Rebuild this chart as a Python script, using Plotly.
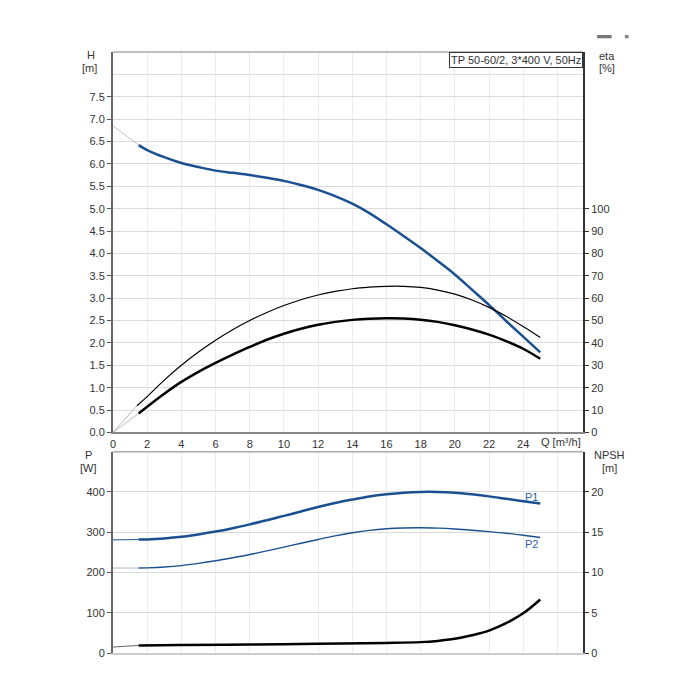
import plotly.graph_objects as go

# ---------------- data ----------------
q_h = [1.5, 2, 3, 4, 5, 6, 7, 8, 9, 10, 11, 12, 13, 14, 15, 16, 17, 18, 19, 20, 21, 22, 23, 24, 25]
h_vals = [6.42, 6.31, 6.15, 6.02, 5.93, 5.85, 5.80, 5.75, 5.69, 5.62, 5.53, 5.42, 5.28, 5.11, 4.90, 4.65,
          4.39, 4.12, 3.83, 3.53, 3.19, 2.85, 2.49, 2.14, 1.79]
q_h_ext = [0, 0.75, 1.5]
h_ext = [6.85, 6.63, 6.42]

q_eta = [1.4, 2, 3, 4, 5, 6, 7, 8, 9, 10, 11, 12, 13, 14, 15, 16, 17, 18, 19, 20, 21, 22, 23, 24, 25]
eta_vals = [11.9, 16.0, 23.4, 30.0, 35.9, 41.2, 45.9, 50.0, 53.6, 56.7, 59.3, 61.4, 63.0, 64.2, 64.9,
            65.3, 65.3, 64.8, 63.6, 61.8, 59.2, 55.9, 51.9, 47.3, 42.4]
q_etat = [1.5, 2, 3, 4, 5, 6, 7, 8, 9, 10, 11, 12, 13, 14, 15, 16, 17, 18, 19, 20, 21, 22, 23, 24, 25]
etat_vals = [8.5, 11.5, 17.3, 22.6, 27.1, 31.1, 34.8, 38.2, 41.4, 44.1, 46.3, 48.1, 49.4, 50.3, 50.8,
             51.0, 50.9, 50.4, 49.4, 47.9, 46.0, 43.7, 40.8, 37.4, 32.9]

q_p = [1.5, 2, 3, 4, 5, 6, 7, 8, 9, 10, 11, 12, 13, 14, 15, 16, 17, 18, 19, 20, 21, 22, 23, 24, 25]
p1_vals = [281.7, 282, 284.5, 288.5, 294.5, 301.5, 310, 319.5, 329.5, 340.5, 351.5, 362.5, 372.5, 381,
           388.5, 394, 398, 400, 400, 398, 394, 389, 383, 377, 371]
p2_vals = [211, 211.5, 213.5, 217, 222.5, 229, 236.5, 244.5, 253.5, 263, 272.5, 282, 291, 298.5,
           304.5, 308.5, 310.5, 311, 310, 308, 305, 301.5, 297.5, 292.5, 287]
q_p_ext = [0, 1.5]
p1_ext = [281, 281.7]
p2_ext = [211, 211]

q_npsh = [1.5, 4, 8, 12, 16, 18, 19, 20, 21, 22, 23, 24, 25]
npsh_vals = [0.94, 1.0, 1.05, 1.15, 1.25, 1.35, 1.5, 1.76, 2.2, 2.78, 3.7, 4.93, 6.65]
q_npsh_ext = [0, 1.5]
npsh_ext = [0.74, 0.94]

x_ticks = list(range(0, 25, 2))
h_ticks = [i * 0.5 for i in range(16)]
eta_ticks = list(range(0, 101, 10))
p_ticks = list(range(0, 401, 100))
npsh_ticks = list(range(0, 21, 5))

title_text = "TP 50-60/2, 3*400 V, 50Hz"

# ---------------- figure ----------------
BLUE = "#1a5090"
EXT = "#b8c2d0"
FONT = "Liberation Sans, Arial, sans-serif"

fig = go.Figure()

# top plot
fig.add_trace(go.Scatter(x=q_h_ext, y=h_ext, mode="lines", line=dict(color=EXT, width=1), xaxis="x", yaxis="y"))
fig.add_trace(go.Scatter(x=q_h, y=h_vals, mode="lines", line=dict(color=BLUE, width=2.5, shape="spline"), xaxis="x", yaxis="y"))
fig.add_trace(go.Scatter(x=[0, q_eta[0]], y=[0, eta_vals[0]], mode="lines", line=dict(color="#bbbbbb", width=1), xaxis="x", yaxis="y2"))
fig.add_trace(go.Scatter(x=[0, q_etat[0]], y=[0, etat_vals[0]], mode="lines", line=dict(color="#bbbbbb", width=1), xaxis="x", yaxis="y2"))
fig.add_trace(go.Scatter(x=q_eta, y=eta_vals, mode="lines", line=dict(color="black", width=1.2, shape="spline"), xaxis="x", yaxis="y2"))
fig.add_trace(go.Scatter(x=q_etat, y=etat_vals, mode="lines", line=dict(color="black", width=2.5, shape="spline"), xaxis="x", yaxis="y2"))

# bottom plot
fig.add_trace(go.Scatter(x=q_p_ext, y=p1_ext, mode="lines", line=dict(color=BLUE, width=1), xaxis="x2", yaxis="y3"))
fig.add_trace(go.Scatter(x=q_p_ext, y=p2_ext, mode="lines", line=dict(color="#a9b8cc", width=1), xaxis="x2", yaxis="y3"))
fig.add_trace(go.Scatter(x=q_p, y=p1_vals, mode="lines", line=dict(color=BLUE, width=2.5, shape="spline"), xaxis="x2", yaxis="y3"))
fig.add_trace(go.Scatter(x=q_p, y=p2_vals, mode="lines", line=dict(color=BLUE, width=1.4, shape="spline"), xaxis="x2", yaxis="y3"))
fig.add_trace(go.Scatter(x=q_npsh_ext, y=npsh_ext, mode="lines", line=dict(color="#666666", width=1), xaxis="x2", yaxis="y4"))
fig.add_trace(go.Scatter(x=q_npsh, y=npsh_vals, mode="lines", line=dict(color="black", width=2.5, shape="spline"), xaxis="x2", yaxis="y4"))

tickfont = dict(family=FONT, size=11, color="#333333")
TOP_D = [0.367, 1.0]
BOT_D = [0.0, 0.335]

fig.update_layout(
    width=700, height=700,
    margin=dict(l=105, r=125, t=44, b=55),
    paper_bgcolor="white", plot_bgcolor="white",
    showlegend=False,
    font=dict(family=FONT, size=11, color="#333333"),
    xaxis=dict(domain=[0, 1], anchor="y", range=[0, 27.5], tickvals=x_ticks,
               showgrid=False, minor=dict(dtick=2, tick0=0, showgrid=True, gridcolor="#ececec", gridwidth=1),
               showline=True, linecolor="#888888", linewidth=2, ticks="", zeroline=False,
               tickfont=tickfont, fixedrange=True),
    yaxis=dict(domain=TOP_D, anchor="x", range=[0, 8.5], tickvals=h_ticks, tickformat=".1f",
               showgrid=False, minor=dict(dtick=0.5, tick0=0, showgrid=True, gridcolor="#dadada", gridwidth=1),
               showline=True, linecolor="#666666", linewidth=2, ticks="outside", ticklen=4,
               tickcolor="#555555", zeroline=False, tickfont=tickfont),
    yaxis2=dict(overlaying="y", side="right", anchor="x", range=[0, 170], tickvals=eta_ticks,
                showgrid=False, showline=True, linecolor="#333333", linewidth=2, ticks="outside",
                ticklen=4, tickcolor="#333333", zeroline=False, tickfont=tickfont),
    xaxis2=dict(domain=[0, 1], anchor="y3", range=[0, 27.5], showticklabels=False,
                showgrid=False, minor=dict(dtick=2, tick0=0, showgrid=True, gridcolor="#ececec", gridwidth=1),
                showline=True, linecolor="#cccccc", linewidth=2, ticks="", zeroline=False),
    yaxis3=dict(domain=BOT_D, anchor="x2", range=[0, 500], tickvals=p_ticks,
                showgrid=True, gridcolor="#dadada", showline=True, linecolor="#666666", linewidth=2,
                ticks="outside", ticklen=4, tickcolor="#555555", zeroline=False, tickfont=tickfont),
    yaxis4=dict(overlaying="y3", side="right", anchor="x2", range=[0, 25], tickvals=npsh_ticks,
                showgrid=False, showline=True, linecolor="#333333", linewidth=2, ticks="outside",
                ticklen=4, tickcolor="#333333", zeroline=False, tickfont=tickfont),
)

# top borders
fig.add_shape(type="line", xref="x domain", yref="y domain", x0=0, x1=1, y0=1, y1=1,
              line=dict(color="#aaaaaa", width=1.5))
fig.add_shape(type="line", xref="x2 domain", yref="y3 domain", x0=0, x1=1, y0=1, y1=1,
              line=dict(color="#aaaaaa", width=1.5))
# small icons top-right
fig.add_shape(type="rect", xref="paper", yref="paper", x0=1.030, x1=1.061, y0=1.0228, y1=1.0283,
              line=dict(width=0), fillcolor="#777777")
fig.add_shape(type="rect", xref="paper", yref="paper", x0=1.089, x1=1.097, y0=1.0228, y1=1.0283,
              line=dict(width=0), fillcolor="#888888")

def ann(text, x, y, xref="paper", yref="paper", color="#333333", **kw):
    fig.add_annotation(text=text, x=x, y=y, xref=xref, yref=yref, showarrow=False,
                       xanchor="center", yanchor="middle",
                       font=dict(family=FONT, size=11, color=color), **kw)

ann("H", -0.046, 0.995)
ann("[m]", -0.049, 0.973)
ann("eta", 1.050, 0.993)
ann("[%]", 1.050, 0.973)
ann("P", -0.053, 0.329)
ann("[W]", -0.053, 0.308)
ann("NPSH", 1.057, 0.329)
ann("[m]", 1.057, 0.308)
ann("Q [m³/h]", 0.953, 0.3516)
ann("P1", 24.5, 388, xref="x2", yref="y3", color="#2f60a0")
ann("P2", 24.5, 271, xref="x2", yref="y3", color="#2f60a0")
fig.add_annotation(text=title_text, x=1, y=1, xref="paper", yref="paper", xanchor="right", yanchor="top",
                   showarrow=False, bgcolor="white", bordercolor="#333333", borderwidth=1, borderpad=1,
                   font=dict(family=FONT, size=11, color="#333333"))

fig.write_html("out.html")
